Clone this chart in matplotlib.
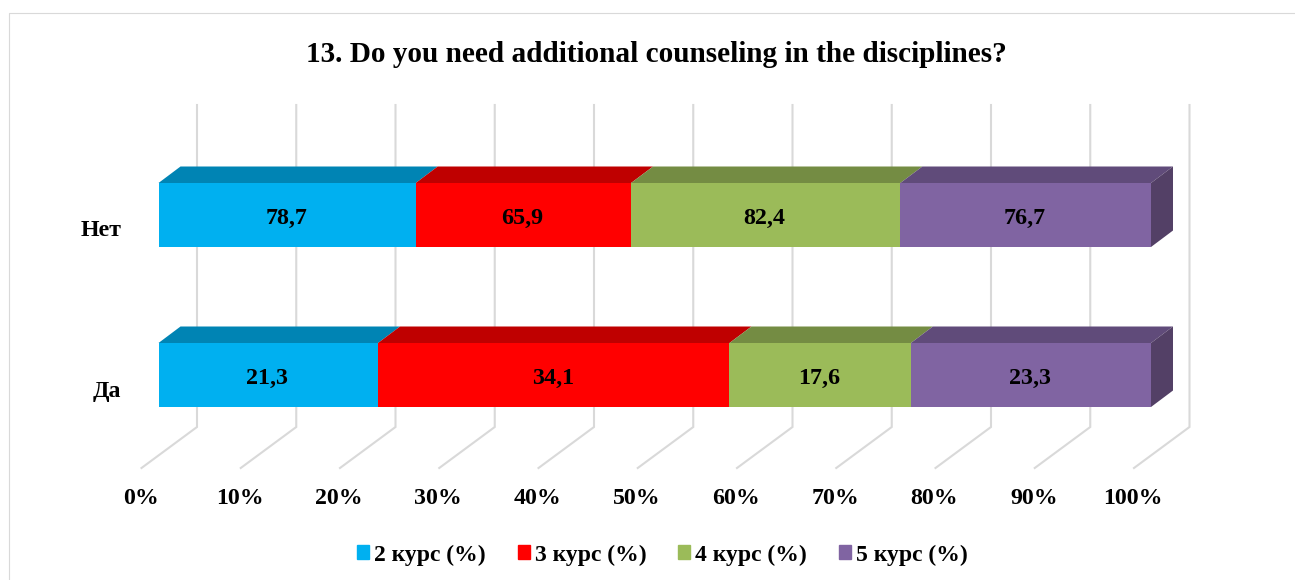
import matplotlib
matplotlib.use('Agg')
import matplotlib.pyplot as plt
from matplotlib.patches import Patch
import numpy as np

title = '13. Do you need additional counseling in the disciplines?'
categories = ['Нет', 'Да']
series_names = ['2 курс (%)', '3 курс (%)', '4 курс (%)', '5 курс (%)']
series_values = [
    [78.7, 21.3],
    [65.9, 34.1],
    [82.4, 17.6],
    [76.7, 23.3],
]
tick_values = [0, 10, 20, 30, 40, 50, 60, 70, 80, 90, 100]

front_colors = ['#00B0F0', '#FF0000', '#9BBB59', '#8064A2']
top_colors = ['#0084B4', '#BF0000', '#748C43', '#604B7A']
side_color = '#534066'
grid_color = '#D9D9D9'

plt.rcParams['font.family'] = ['Liberation Serif']
plt.rcParams['font.weight'] = 'bold'

W, H = 1295, 580
PX = 9.925  # pixels per percent
X0 = 158.5  # pixel of 0% on the bar front


def to_x(px):
    return (px - X0) / PX


fig = plt.figure(figsize=(W / 100, H / 100), dpi=100)
ax = fig.add_axes([0, 0, 1, 1])
ax.set_xlim(to_x(0), to_x(W))
ax.set_ylim(H, 0)  # y runs in pixels, x in percent
ax.axis('off')

# outer chart frame
ax.plot([to_x(9.5), to_x(9.5), to_x(W)], [H, 12.5, 12.5], color=grid_color, lw=0.8)

# back wall and floor gridlines
back = to_x(197)
front = to_x(141.5)
for t in tick_values:
    ax.plot([t + back, t + back, t + front], [105, 427, 468],
            color=grid_color, lw=1.5, zorder=1, solid_joinstyle='miter')
    ax.text(t + to_x(140.5), 498, f'{t}%', ha='center', va='center', fontsize=17.2)

# stacked bars, every series scaled to its share of the row total
values = np.array(series_values)
shares = values / values.sum(axis=0) * 100
bar_y = [215, 375]
label_y = [230, 392]
bar_h = 64
dx = 22 / PX
dy = 16.5

for j, y in enumerate(bar_y):
    left = 0
    for i in range(len(series_names)):
        w = shares[i][j]
        ax.barh(y, w, left=left, height=bar_h, color=front_colors[i], zorder=3)
        top = y - bar_h / 2
        ax.fill([left, left + w, left + w + dx, left + dx],
                [top, top, top - dy, top - dy], color=top_colors[i], lw=0, zorder=2.5 + i * 0.1)
        ax.text(left + w / 2 - 0.1, y + 3.5, f'{values[i][j]}'.replace('.', ','),
                ha='center', va='center', fontsize=17.3, zorder=4)
        left += w
    ax.fill([left, left + dx, left + dx, left],
            [y - bar_h / 2, y - bar_h / 2 - dy, y + bar_h / 2 - dy, y + bar_h / 2],
            color=side_color, lw=0, zorder=3)
    ax.text(to_x(121.5), label_y[j], categories[j], ha='right', va='center', fontsize=17.2)

ax.text(to_x(656.5), 54.5, title, ha='center', va='center', fontsize=21.1)

handles = [Patch(color=c) for c in front_colors]
ax.legend(handles, series_names, ncol=4, frameon=False, fontsize=17,
          loc='center', bbox_to_anchor=(662.5 / W, 1 - 555 / H),
          handlelength=0.5, handleheight=0.5, handletextpad=0.22, columnspacing=1.35,
          borderpad=0, borderaxespad=0)

fig.savefig('out.png', dpi=100)
